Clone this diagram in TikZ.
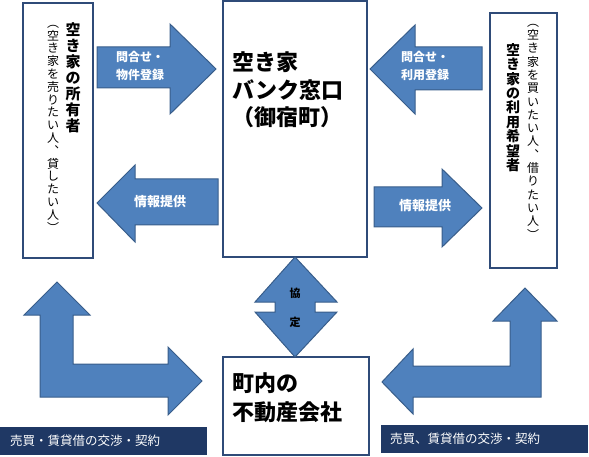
\documentclass[tikz,border=0pt]{standalone}
\usepackage{fontspec}
\newfontfamily\cjk{Noto Sans CJK JP}
\definecolor{arrowfill}{RGB}{79,129,189}
\definecolor{arrowline}{RGB}{56,93,138}
\definecolor{boxline}{RGB}{47,75,120}
\definecolor{barfill}{RGB}{31,56,100}
\tikzset{
  box/.style={draw=boxline, line width=1.3pt, fill=white, inner sep=0pt},
  blockarrow/.style={fill=arrowfill, draw=arrowline, line width=1pt, line join=miter},
  bar/.style={fill=barfill, draw=none, inner sep=0pt},
  bigtxt/.style={font=\cjk\bfseries\fontsize{22}{27.5}\selectfont, align=left, anchor=west, inner sep=0pt},
  vbig/.style={font=\cjk\bfseries\fontsize{15}{16}\selectfont, align=center, inner sep=0pt},
  vsmall/.style={font=\cjk\fontsize{12}{12.8}\selectfont, align=center, inner sep=0pt},
  arrtxt/.style={font=\cjk\bfseries\fontsize{12}{17.5}\selectfont, text=white, align=left, inner sep=0pt},
  bartxt/.style={font=\cjk\fontsize{12.5}{14}\selectfont, text=white, anchor=west, inner sep=0pt}
}
\begin{document}
\begin{tikzpicture}[x=1pt,y=-1pt]
\useasboundingbox (0,0) rectangle (589,457);
% boxes
\node[box, minimum width=70pt, minimum height=255pt] (owner) at (58,130.5) {};
\node[box, minimum width=144pt, minimum height=256pt] (bank) at (295,129) {};
\node[box, minimum width=67pt, minimum height=255pt] (user) at (523.5,140.5) {};
\node[box, minimum width=146pt, minimum height=98pt] (agent) at (296,406) {};
% box texts
\node[vbig] (ownerA) at (73,77.5) {空\\き\\家\\の\\所\\有\\者};
\node[vsmall] (ownerB) at (53,128.5) {︵\\空\\き\\家\\を\\売\\り\\た\\い\\人\\︑\\貸\\し\\た\\い\\人\\︶};
\node[vbig, font=\cjk\bfseries\fontsize{14}{14.4}\selectfont] (userA) at (513,107.5) {空\\き\\家\\の\\利\\用\\希\\望\\者};
\node[vsmall, font=\cjk\fontsize{12}{13.3}\selectfont] (userB) at (533,131.5) {︵\\空\\き\\家\\を\\買\\い\\た\\い\\人\\︑\\借\\り\\た\\い\\人\\︶};
\node[bigtxt] (bankT) at (232,90) {空き家\\バンク窓口\\（御宿町）};
\node[bigtxt, font=\cjk\bfseries\fontsize{22}{29}\selectfont] (agentT) at (232,397.5) {町内の\\不動産会社};
% top left arrows
\draw[blockarrow] (97,47) -- (170,47) -- (170,24) -- (216,69) -- (170,114) -- (170,88) -- (97,88) -- cycle;
\node[arrtxt, anchor=west] (a1) at (116,66) {問合せ・\\物件登録};
\draw[blockarrow] (218,179) -- (135,179) -- (135,165) -- (97,203) -- (135,242) -- (135,225) -- (218,225) -- cycle;
\node[arrtxt, font=\cjk\bfseries\fontsize{13}{15}\selectfont] (a2) at (160,202) {情報提供};
% right arrows
\draw[blockarrow] (482,47) -- (415,47) -- (415,25) -- (370,69) -- (415,114) -- (415,90) -- (482,90) -- cycle;
\node[arrtxt, anchor=west] (a3) at (401,66) {問合せ・\\利用登録};
\draw[blockarrow] (374,187) -- (442,187) -- (442,169) -- (482,208) -- (442,247) -- (442,227) -- (374,227) -- cycle;
\node[arrtxt, font=\cjk\bfseries\fontsize{13}{15}\selectfont] (a4) at (425,206) {情報提供};
% double arrow
\draw[blockarrow] (295,257) -- (337,302) -- (315,302) -- (315,312) -- (337,312) -- (295,357) -- (255,312) -- (275,312) -- (275,302) -- (255,302) -- cycle;
\node[font=\cjk\bfseries\fontsize{11}{29}\selectfont, align=center, inner sep=0pt] (kyo) at (295,307.5) {協\\定};
% L arrows
\draw[blockarrow] (57,282) -- (90,315) -- (73,315) -- (73,364) -- (168,364) -- (168,347) -- (202,381) -- (168,415) -- (168,397) -- (40,397) -- (40,315) -- (24,315) -- cycle;
\draw[blockarrow] (525,288) -- (557,321) -- (541,321) -- (541,397) -- (413,397) -- (413,414) -- (382,382) -- (413,349) -- (413,366) -- (510,366) -- (510,321) -- (493,321) -- cycle;
% bottom bars
\node[bar, minimum width=207pt, minimum height=28pt] (barL) at (103.5,441) {};
\node[bartxt] (barLT) at (10,441) {売買・賃貸借の交渉・契約};
\node[bar, minimum width=207pt, minimum height=28pt] (barR) at (484.5,439) {};
\node[bartxt] (barRT) at (390,439) {売買、賃貸借の交渉・契約};
\end{tikzpicture}
\end{document}
